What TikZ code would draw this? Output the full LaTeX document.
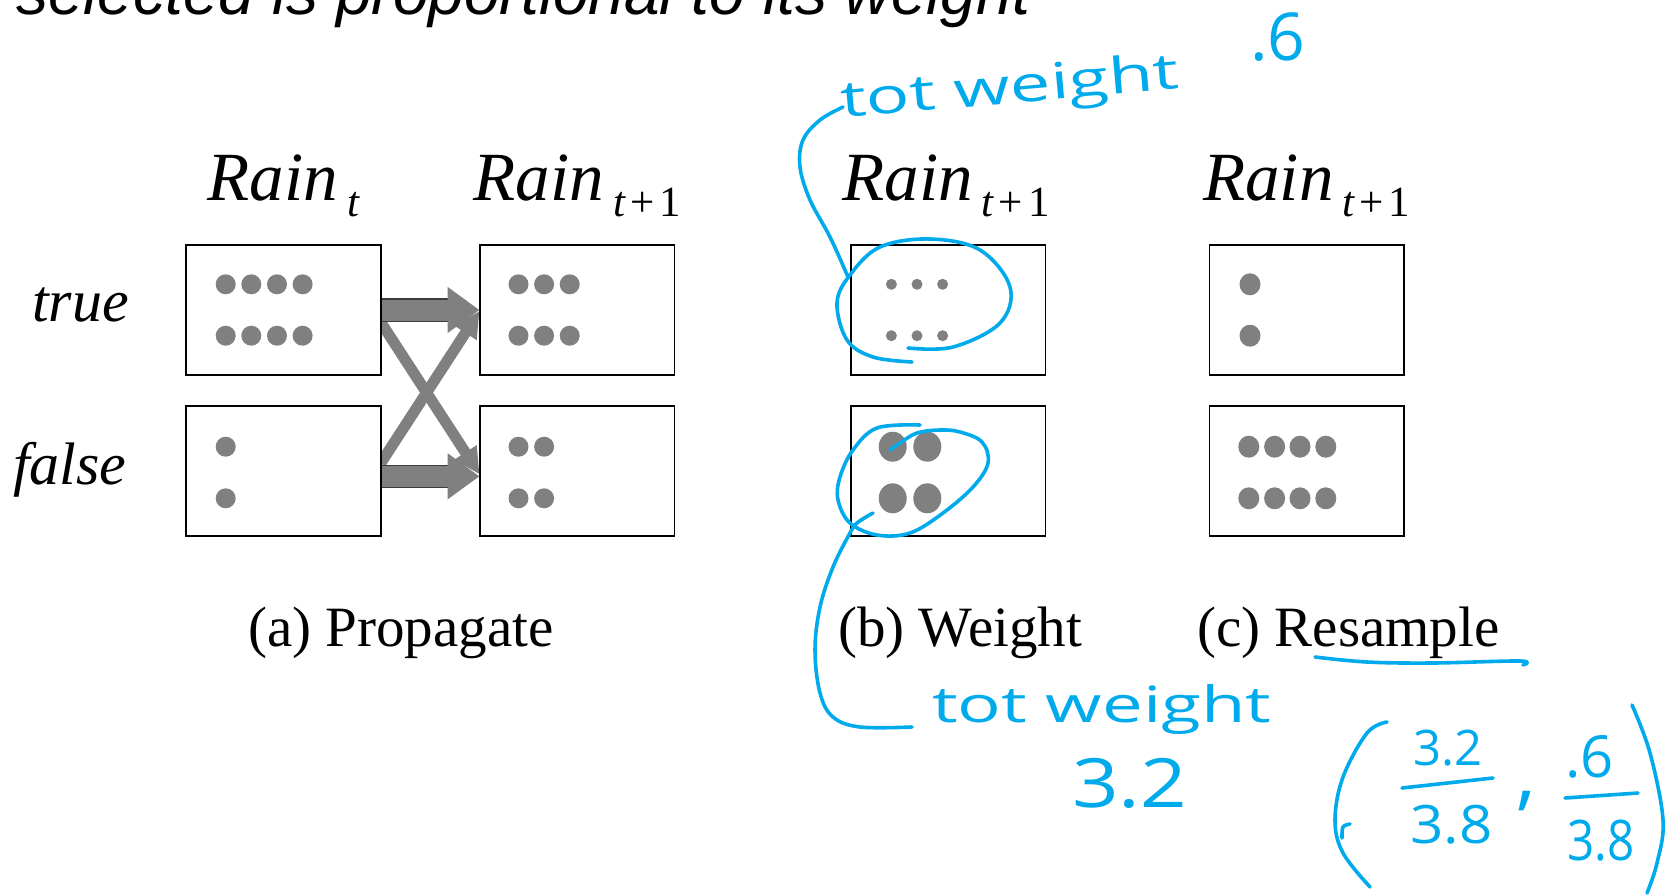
\documentclass[tikz,border=0pt]{standalone}
\usepackage{fontspec}
\usepackage{graphicx}
\setmainfont{Liberation Serif}
\newfontfamily\arialfont{Liberation Sans}
\newfontfamily\handfont{Open Sans}
\usetikzlibrary{arrows.meta}
\definecolor{handblue}{RGB}{0,170,235}
\definecolor{arrowgray}{RGB}{128,128,128}
\definecolor{dotgray}{RGB}{128,128,128}
\definecolor{edgegray}{RGB}{60,60,60}
\newcommand{\rainlbl}[1]{{\fontsize{69pt}{69pt}\selectfont\itshape Rain}\kern9pt\raisebox{-16.7pt}{\fontsize{43pt}{43pt}\selectfont #1}}
\newcommand{\tplus}{{\itshape t}\kern5pt+\kern5pt1}
\newcommand{\handsz}[1]{\handfont\fontsize{#1}{#1}\selectfont}
\begin{document}
\begin{tikzpicture}[x=1pt,y=-1pt,
  box/.style={draw=black, fill=white, line width=1.8pt, minimum width=194.5pt, minimum height=130pt, inner sep=0pt},
  lbl/.style={inner sep=0pt, anchor=base},
  rowlbl/.style={inner sep=0pt, anchor=base west, font=\fontsize{60pt}{60pt}\selectfont\itshape},
  capt/.style={inner sep=0pt, anchor=base west, font=\fontsize{57pt}{57pt}\selectfont},
  hand/.style={draw=handblue, line width=3.6pt, line cap=round, line join=round},
  handtxt/.style={inner sep=0pt, anchor=base west, text=handblue},
  bigarrow/.style={draw=arrowgray, line width=21pt, -{Triangle[length=32pt,width=44pt]}},
  bigshaft/.style={draw=edgegray, line width=23.5pt, shorten >=31pt},
  thinarrow/.style={draw=arrowgray, line width=11pt, -{Triangle[length=26pt,width=25pt]}},
]
\useasboundingbox (0,0) rectangle (1672,894);

% title (cut off at top)
\node[inner sep=0pt, anchor=base west, font=\arialfont\itshape\fontsize{64pt}{64pt}\selectfont] (title) at (16,14) {selected is proportional to its weight};

% coordinates of boxes (for arrows drawn beneath the boxes)
\coordinate (A1e) at (380.65,310);
\coordinate (A2e) at (380.65,471.3);
\coordinate (B1w) at (479.55,310);
\coordinate (B2w) at (479.55,471.3);

% propagate arrows
\draw[thinarrow] ([yshift=-12pt]A1e) -- ([yshift=-3pt]B2w);
\draw[thinarrow] ([yshift=8pt]A2e) -- ([yshift=-1pt]B1w);
\draw[bigshaft] (A1e) -- (B1w);
\draw[bigarrow] ([xshift=1.5pt]A1e) -- (B1w);
\draw[bigshaft] ([yshift=-5pt]A2e) -- ([yshift=-5pt]B2w);
\draw[bigarrow] ([xshift=1.5pt,yshift=-5pt]A2e) -- ([yshift=-5pt]B2w);

% boxes
\node[box] (A1) at (283.4,310) {};
\node[box] (A2) at (283.4,471.3) {};
\node[box] (B1) at (577.3,310) {};
\node[box] (B2) at (577.3,471.3) {};
\node[box] (C1) at (948.3,310) {};
\node[box] (C2) at (948.3,471.3) {};
\node[box] (D1) at (1306.7,310) {};
\node[box] (D2) at (1306.7,471.3) {};

% dots
\foreach \x in {225.7,251.3,277,302.6} \foreach \y in {284.3,335.7} \fill[dotgray] (\x,\y) circle[radius=10pt];
\foreach \y in {446.7,498.3} \fill[dotgray] (225.7,\y) circle[radius=10pt];
\foreach \x in {518.5,544.1,569.7} \foreach \y in {284.3,335.7} \fill[dotgray] (\x,\y) circle[radius=10pt];
\foreach \x in {518.5,544.1} \foreach \y in {446.7,498.3} \fill[dotgray] (\x,\y) circle[radius=10pt];
\foreach \x in {891.4,917,942.6} \foreach \y in {284.3,335.7} \fill[dotgray] (\x,\y) circle[radius=5.5pt];
\foreach \x in {892.7,927.3} \foreach \y in {446.7,498.3} \fill[dotgray] (\x,\y) ellipse[x radius=14pt, y radius=15pt];
\foreach \y in {284.3,335.7} \fill[dotgray] (1250,\y) ellipse[x radius=10.5pt, y radius=11pt];
\foreach \x in {1248.8,1274.6,1300,1325.8} \foreach \y in {446.7,498.3} \fill[dotgray] (\x,\y) ellipse[x radius=10.5pt, y radius=11pt];

% column labels
\node[lbl] (LA) at (283.4,200) {\rainlbl{\itshape t}};
\node[lbl] (LB) at (577.3,200) {\rainlbl{\tplus}};
\node[lbl] (LC) at (946,200) {\rainlbl{\tplus}};
\node[lbl] (LD) at (1306.7,200) {\rainlbl{\tplus}};

% row labels
\node[rowlbl] (rtrue) at (32,321) {true};
\node[rowlbl] (rfalse) at (13,484) {false};

% captions
\node[capt] (ca) at (248,646) {(a) Propagate};
\node[capt] (cb) at (838,646) {(b) Weight};
\node[capt] (cc) at (1197,646) {(c) Resample};

% ---- handwritten annotations ----
\node[handtxt, rotate=5, font=\handsz{50pt}] (tw1) at (842,118) {\scalebox{1.45}[1]{tot weight}};
\node[handtxt, font=\handsz{66pt}] (w06) at (1250,60) {.6};
\draw[hand] plot[smooth, tension=0.6] coordinates {(843,107) (820,120) (803,140) (800,167) (810,200) (830,237) (848,277)};
\draw[hand] plot[smooth, tension=0.6] coordinates {(912,362) (873,357) (847,340) (837,303) (850,275) (880,247) (930,239) (980,250) (1010,287) (1000,323) (953,347) (908,348)};

\draw[hand] plot[smooth, tension=0.6] coordinates {(920,425) (877,428) (853,450) (840,477) (838,500) (850,523) (877,535) (910,533) (943,513) (973,487) (988,463) (982,442) (960,432) (940,430) (917,433) (900,443) (890,450)};
\draw[hand] plot[smooth, tension=0.6] coordinates {(873,513) (857,523) (850,533) (833,567) (820,607) (815,650) (820,693) (833,717) (860,727) (912,727)};
\node[handtxt, font=\handsz{50pt}] (tw2) at (932,722) {\scalebox{1.45}[1]{tot weight}};
\node[handtxt, font=\handsz{68pt}] (w32) at (1072,807) {\scalebox{1.2}[1]{3.2}};

% underline of Resample
\draw[hand] plot[smooth, tension=0.6] coordinates {(1315,657) (1367,662) (1433,663) (1520,661) (1523,665)};

% (3.2/3.8 , .6/3.8)
\draw[hand] plot[smooth, tension=0.6] coordinates {(1387,722) (1367,733) (1343,777) (1335,820) (1343,853) (1370,887)};
\draw[hand] plot[smooth, tension=0.6] coordinates {(1350,824) (1343,827) (1342,838)};
\draw[hand] plot[smooth, tension=0.6] coordinates {(1632,705) (1650,753) (1663,820) (1657,863) (1647,893)};
\node[handtxt, font=\handsz{49pt}] (n1) at (1413,765) {3.2};
\draw[hand] (1402,788) -- (1493,778);
\node[handtxt, font=\handsz{53pt}] (d1) at (1410,843) {\scalebox{1.1}[1]{3.8}};
\node[handtxt, font=\handsz{80pt}] (cm) at (1516,800) {,};
\node[handtxt, font=\handsz{58pt}] (n2) at (1565,777) {.6};
\draw[hand] (1565,798) -- (1638,793);
\node[handtxt, font=\handsz{56pt}] (d2) at (1567,860) {\scalebox{0.85}[1]{3.8}};
\end{tikzpicture}
\end{document}
